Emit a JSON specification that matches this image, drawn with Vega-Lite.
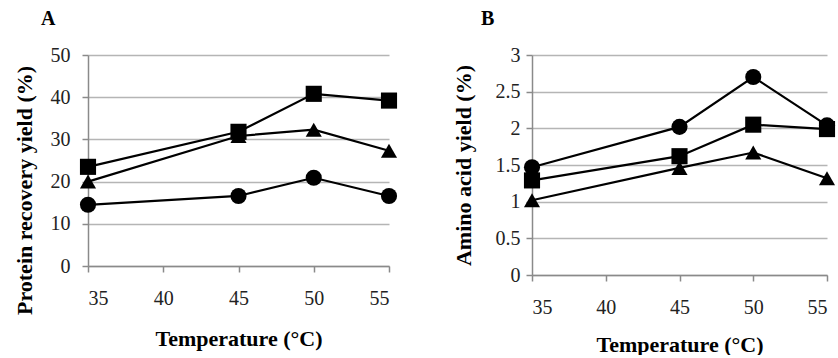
{
  "$schema": "https://vega.github.io/schema/vega-lite/v6.json",
  "background": "white",
  "padding": {"left": 12, "top": 9, "right": 0, "bottom": 0},
  "spacing": 54,
  "config": {
    "view": {"stroke": null},
    "font": "Liberation Serif",
    "axis": {
      "labelFont": "Liberation Serif",
      "labelFontSize": 20,
      "labelColor": "#222",
      "titleFont": "Liberation Serif",
      "titleFontSize": 22,
      "titleFontWeight": "bold",
      "titleColor": "#000",
      "domainColor": "#8a8a8a",
      "tickColor": "#8a8a8a",
      "gridColor": "#b5b5b5",
      "domainWidth": 1.5,
      "tickWidth": 1.5,
      "gridWidth": 1.5,
      "tickSize": 6
    },
    "title": {"font": "Liberation Serif", "fontSize": 20, "fontWeight": "bold", "anchor": "start", "color": "#000", "frame": "group"}
  },
  "datasets": {
    "a": [
      {"temp": 35, "series": "square", "value": 23.5},
      {"temp": 45, "series": "square", "value": 31.8},
      {"temp": 50, "series": "square", "value": 40.8},
      {"temp": 55, "series": "square", "value": 39.2},
      {"temp": 35, "series": "triangle", "value": 20.0},
      {"temp": 45, "series": "triangle", "value": 30.8},
      {"temp": 50, "series": "triangle", "value": 32.3},
      {"temp": 55, "series": "triangle", "value": 27.3},
      {"temp": 35, "series": "circle", "value": 14.5},
      {"temp": 45, "series": "circle", "value": 16.6},
      {"temp": 50, "series": "circle", "value": 20.9},
      {"temp": 55, "series": "circle", "value": 16.6}
    ],
    "b": [
      {"temp": 35, "series": "circle", "value": 1.47},
      {"temp": 45, "series": "circle", "value": 2.02},
      {"temp": 50, "series": "circle", "value": 2.70},
      {"temp": 55, "series": "circle", "value": 2.04},
      {"temp": 35, "series": "square", "value": 1.29},
      {"temp": 45, "series": "square", "value": 1.62},
      {"temp": 50, "series": "square", "value": 2.05},
      {"temp": 55, "series": "square", "value": 1.99},
      {"temp": 35, "series": "triangle", "value": 1.02},
      {"temp": 45, "series": "triangle", "value": 1.46},
      {"temp": 50, "series": "triangle", "value": 1.67},
      {"temp": 55, "series": "triangle", "value": 1.32}
    ]
  },
  "hconcat": [
    {
      "width": 301,
      "height": 211,
      "title": {"text": "A", "dx": -47, "offset": 16},
      "data": {"name": "a"},
      "encoding": {
        "x": {"field": "temp", "type": "quantitative", "scale": {"domain": [35, 55], "nice": false, "zero": false},
              "axis": {"values": [35, 40, 45, 50, 55], "grid": false, "title": "Temperature (°C)", "labelFont": "Liberation Serif", "labelPadding": 16, "titlePadding": 20}},
        "y": {"field": "value", "type": "quantitative", "scale": {"domain": [0, 50], "nice": false},
              "axis": {"values": [0, 10, 20, 30, 40, 50], "title": "Protein recovery yield (%)", "labelFont": "Liberation Serif", "labelPadding": 12, "titlePadding": 14, "titleY": 135}},
        "detail": {"field": "series"}
      },
      "layer": [
        {"mark": {"type": "line", "color": "#000", "strokeWidth": 2.2}},
        {"mark": {"type": "point", "filled": true, "color": "#000", "opacity": 1, "size": 260},
         "encoding": {"shape": {"field": "series", "type": "nominal", "legend": null,
           "scale": {"domain": ["circle", "square", "triangle"], "range": ["circle", "square", "triangle-up"]}}}}
      ]
    },
    {
      "width": 295,
      "height": 220,
      "title": {"text": "B", "dx": -51, "offset": 16},
      "data": {"name": "b"},
      "encoding": {
        "x": {"field": "temp", "type": "quantitative", "scale": {"domain": [35, 55], "nice": false, "zero": false},
              "axis": {"values": [35, 40, 45, 50, 55], "grid": false, "title": "Temperature (°C)", "labelFont": "Liberation Serif", "labelPadding": 16, "titlePadding": 17}},
        "y": {"field": "value", "type": "quantitative", "scale": {"domain": [0, 3], "nice": false},
              "axis": {"values": [0, 0.5, 1, 1.5, 2, 2.5, 3], "format": "~g", "title": "Amino acid yield (%)", "labelFont": "Liberation Serif", "labelPadding": 6, "titlePadding": 20}},
        "detail": {"field": "series"}
      },
      "layer": [
        {"mark": {"type": "line", "color": "#000", "strokeWidth": 2.2}},
        {"mark": {"type": "point", "filled": true, "color": "#000", "opacity": 1, "size": 260},
         "encoding": {"shape": {"field": "series", "type": "nominal", "legend": null,
           "scale": {"domain": ["circle", "square", "triangle"], "range": ["circle", "square", "triangle-up"]}}}}
      ]
    }
  ]
}
